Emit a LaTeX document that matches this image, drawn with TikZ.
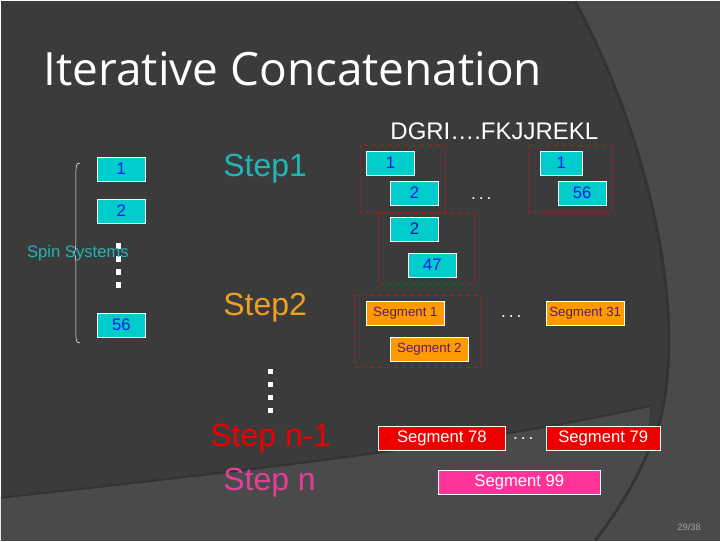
\documentclass[tikz,border=0pt]{standalone}
\usepackage{fontspec}
\setmainfont{Liberation Sans}
\newfontfamily\titlefont[Ligatures=NoCommon]{Open Sans}
\definecolor{bg}{HTML}{3B3B3B}
\definecolor{bgl}{HTML}{4A4A4A}
\definecolor{cy}{HTML}{00CCCC}
\definecolor{cyt}{HTML}{22B5B5}
\definecolor{bl}{HTML}{1A1AE6}
\definecolor{org}{HTML}{FF9900}
\definecolor{orgt}{HTML}{F0A020}
\definecolor{pur}{HTML}{5A1A80}
\definecolor{rd}{HTML}{EE0000}
\definecolor{pk}{HTML}{FF3399}
\definecolor{pkt}{HTML}{E0409A}
\definecolor{dred}{HTML}{B01A1A}
\begin{document}
\begin{tikzpicture}[x=0.75pt,y=-0.75pt,
  ss/.style={draw=white,fill=cy,text=bl,font=\fontsize{12.5}{12.5}\selectfont,inner sep=0pt,minimum width=36pt,minimum height=18pt},
  seg/.style={draw=white,fill=org,text=pur,font=\fontsize{10}{10}\selectfont,inner sep=0pt,minimum width=58.5pt,minimum height=18pt},
  segr/.style={draw=white,fill=rd,text=white,font=\fontsize{12.5}{12.5}\selectfont,inner sep=0pt,minimum height=18pt},
  grp/.style={draw=dred,dashed,thin},
  dotsq/.style={fill=white,minimum size=4pt,inner sep=0pt},
  ell/.style={text=white,font=\fontsize{13}{13}\selectfont},
  stp/.style={font=\fontsize{24}{24}\selectfont,anchor=west}]
\fill[bg] (0,0) rectangle (720,540);
\fill[bgl] (575,0) .. controls (640,120) and (690,300) .. (660,420) .. controls (640,480) and (610,520) .. (595,540) -- (720,540) -- (720,0) -- cycle;
\fill[bgl] (0,497) .. controls (250,470) and (500,440) .. (650,405) -- (640,540) -- (0,540) -- cycle;
\draw[black!80,line width=2pt] (575,0) .. controls (640,120) and (690,300) .. (660,420) .. controls (640,480) and (610,520) .. (595,540);
\draw[black!80,line width=1.5pt] (0,497) .. controls (250,470) and (500,440) .. (650,405);
\node[anchor=base west,text=white,font=\titlefont\fontsize{34.5}{34.5}\selectfont] (title) at (38,84) {Iterative Concatenation};
\node[anchor=base,text=white,font=\fontsize{18}{18}\selectfont] (seq) at (494,138) {DGRI….FKJJREKL};
% left
\node[ss] (l1) at (120.5,168) {1};
\node[ss] (l2) at (120.5,210) {2};
\node[ss] (l56) at (120.5,324) {56};
\foreach \y/\n in {245/a,258/b,271/c,284/d} \node[dotsq] (d\n) at (118,\y) {};
\draw[white,thin] (79,162) .. controls (75,162) and (75,165) .. (75,175) -- (75,240) .. controls (75,250) and (74,252) .. (72,252) .. controls (74,252) and (75,254) .. (75,264) -- (75,330) .. controls (75,340) and (75,342) .. (79,342);
\node[text=cyt,font=\fontsize{12.5}{12.5}\selectfont] (spin) at (77,252) {Spin Systems};
\node[stp,text=cyt] (s1) at (218,168) {Step1};
\node[stp,text=orgt] (s2) at (218,307) {Step2};
\foreach \y/\n in {371/a,384/b,397/c,410/d} \node[dotsq] (e\n) at (270,\y) {};
\node[stp,text=rd] (sn1) at (205,438) {Step n-1};
\node[stp,text=pkt] (sn) at (218,482) {Step n};
% groups
\draw[grp] (360,144) rectangle (445,211);
\node[ss] (a1) at (390,162) {1};
\node[ss] (a2) at (414,192) {2};
\node[ell] (el1) at (481,198) {.\,.\,.};
\draw[grp] (528,144) rectangle (612,211);
\node[ss,minimum width=31.5pt] (b1) at (561,162) {1};
\node[ss] (b56) at (582,192) {56};
\draw[grp] (378,212) rectangle (474,282);
\node[ss,text=bl!60!black] (c2) at (414,228) {2};
\node[ss] (c47) at (432,264) {47};
\draw[grp] (354,294) rectangle (480,366);
\node[seg] (g1) at (405,312) {Segment 1};
\node[seg] (g2) at (429,348) {Segment 2};
\node[ell] (el2) at (511,316) {.\,.\,.};
\node[seg] (g31) at (585,312) {Segment 31};
\node[segr,minimum width=95pt] (g78) at (441.5,438) {Segment 78};
\node[ell] (el3) at (523,438) {.\,.\,.};
\node[segr,minimum width=85.5pt] (g79) at (603,438) {Segment 79};
\node[segr,fill=pk,minimum width=121.5pt] (g99) at (519,482) {Segment 99};
\node[text=gray!70,font=\fontsize{7}{7}\selectfont] (pg) at (689,527) {29/38};
\end{tikzpicture}
\end{document}
